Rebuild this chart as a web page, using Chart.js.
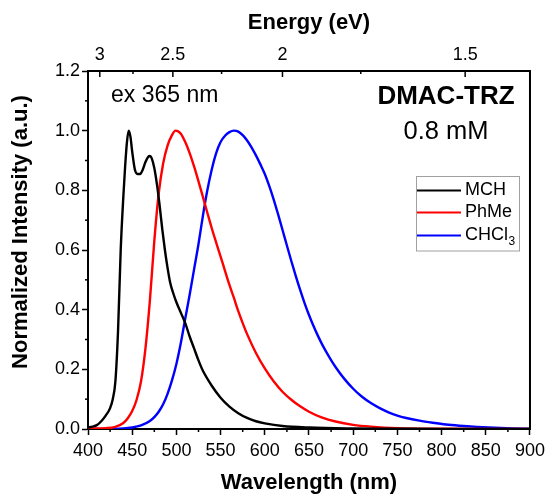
<!DOCTYPE html>
<html>
<head>
<meta charset="utf-8">
<script src="https://cdn.jsdelivr.net/npm/chart.js@4.4.1/dist/chart.umd.min.js"></script>
<style>
  html, body { margin: 0; padding: 0; background: #fff; }
  #wrap { width: 550px; height: 496px; }
</style>
</head>
<body>
<div id="wrap"><canvas id="plChart"></canvas></div>
<script>
// emission spectra
const mchWl = [400, 405, 410, 415, 420, 425, 428, 431, 434, 437, 440, 442, 444, 446, 448, 450, 453, 456, 459, 462, 465, 468, 470, 472, 475, 478, 481, 484, 487, 490, 493, 497, 500, 505, 510, 515, 520, 525, 530, 540, 550, 560, 570, 580, 590, 600, 620, 650, 700, 750, 800, 900];
const mchInt = [0.005, 0.008, 0.013, 0.026, 0.045, 0.07, 0.1, 0.16, 0.33, 0.6, 0.78, 0.88, 0.96, 1.0, 0.98, 0.93, 0.87, 0.855, 0.855, 0.87, 0.895, 0.912, 0.915, 0.908, 0.875, 0.82, 0.75, 0.67, 0.6, 0.54, 0.49, 0.45, 0.425, 0.39, 0.355, 0.31, 0.27, 0.23, 0.195, 0.145, 0.105, 0.075, 0.053, 0.037, 0.026, 0.019, 0.01, 0.005, 0.002, 0.001, 0, 0];

const phmeWl = [400, 420, 430, 440, 445, 450, 455, 460, 465, 470, 475, 480, 485, 490, 495, 499, 505, 510, 515, 520, 525, 530, 535, 540, 545, 550, 555, 560, 565, 570, 575, 580, 590, 600, 610, 620, 630, 640, 650, 665, 680, 700, 720, 750, 800, 850, 900];
const phmeInt = [0.002, 0.003, 0.006, 0.02, 0.036, 0.06, 0.098, 0.16, 0.27, 0.43, 0.63, 0.79, 0.89, 0.95, 0.985, 1.0, 0.99, 0.962, 0.925, 0.88, 0.83, 0.778, 0.725, 0.673, 0.625, 0.578, 0.53, 0.483, 0.44, 0.395, 0.355, 0.318, 0.255, 0.203, 0.16, 0.125, 0.098, 0.076, 0.058, 0.038, 0.025, 0.014, 0.008, 0.003, 0.001, 0, 0];

const chclWl = [400, 440, 450, 460, 470, 475, 480, 485, 490, 495, 500, 505, 510, 515, 520, 525, 530, 535, 540, 545, 550, 555, 560, 565, 570, 575, 580, 585, 590, 595, 600, 605, 610, 615, 620, 625, 630, 635, 640, 645, 650, 655, 660, 665, 670, 675, 680, 690, 700, 710, 720, 730, 740, 750, 760, 775, 790, 805, 820, 840, 860, 880, 900];
const chclInt = [0, 0.002, 0.005, 0.012, 0.027, 0.04, 0.058, 0.083, 0.118, 0.163, 0.218, 0.288, 0.37, 0.45, 0.535, 0.62, 0.715, 0.8, 0.87, 0.925, 0.962, 0.983, 0.995, 1.0, 0.997, 0.985, 0.967, 0.944, 0.917, 0.887, 0.855, 0.815, 0.77, 0.72, 0.668, 0.615, 0.563, 0.513, 0.466, 0.422, 0.382, 0.346, 0.313, 0.283, 0.256, 0.231, 0.208, 0.168, 0.135, 0.108, 0.087, 0.07, 0.056, 0.045, 0.037, 0.028, 0.021, 0.015, 0.011, 0.007, 0.004, 0.002, 0.001];

const seriesNames = ["MCH", "PhMe", "CHCl3"];
const seriesColors = ["#000000", "#ff0000", "#0000ff"];

// top axis in eV (E = 1240 / wavelength)
const energyTicks = [3, 2.5, 2, 1.5];
const energyLabels = ["3", "2.5", "2", "1.5"];
const energyMinor = [2.75, 2.25, 1.75];

const xMinor = [425, 475, 525, 575, 625, 675, 725, 775, 825, 875];
const yMinor = [0.1, 0.3, 0.5, 0.7, 0.9, 1.1];

const FONT = "'Liberation Sans', Arial, sans-serif";

function toPoints(wl, val) {
	return wl.map((w, i) => ({ x: w, y: val[i] }));
}

function makeSet(i, wl, val) {
	return {
		label: seriesNames[i],
		data: toPoints(wl, val),
		borderColor: seriesColors[i],
		backgroundColor: seriesColors[i],
		borderWidth: 2.4,
		pointRadius: 0,
		showLine: true,
		fill: false,
		cubicInterpolationMode: "monotone",
	};
}

const extras = {
	id: "extras",
	afterDraw(chart) {
		const { ctx, chartArea: a, scales } = chart;
		const x = scales.x, y = scales.y, xt = scales.xTop;
		const line = (x1, y1, x2, y2) => {
			ctx.beginPath();
			ctx.moveTo(x1, y1);
			ctx.lineTo(x2, y2);
			ctx.stroke();
		};
		ctx.save();
		ctx.strokeStyle = "#000";
		ctx.lineWidth = 2;
		line(a.right, a.top - 1, a.right, a.bottom + 1);

		ctx.lineWidth = 1.5;
		yMinor.forEach(v => {
			const py = y.getPixelForValue(v);
			line(a.left - 3, py, a.left, py);
		});
		xMinor.forEach(v => {
			const px = x.getPixelForValue(v);
			line(px, a.bottom, px, a.bottom + 3);
		});
		energyTicks.forEach(e => {
			const px = xt.getPixelForValue(1240 / e);
			line(px, a.top, px, a.top + 6);
		});
		energyMinor.forEach(e => {
			const px = xt.getPixelForValue(1240 / e);
			line(px, a.top, px, a.top + 3);
		});

		// y title
		ctx.fillStyle = "#000";
		ctx.save();
		ctx.translate(21, 232);
		ctx.rotate(-Math.PI / 2);
		ctx.font = "bold 22px " + FONT;
		ctx.textAlign = "center";
		ctx.textBaseline = "middle";
		ctx.fillText("Normalized Intensity (a.u.)", 0, 0);
		ctx.restore();

		// annotations
		ctx.textBaseline = "middle";
		ctx.textAlign = "left";
		ctx.font = "23px " + FONT;
		ctx.fillText("ex 365 nm", 111, 96);
		ctx.textAlign = "center";
		ctx.font = "bold 26px " + FONT;
		ctx.fillText("DMAC-TRZ", 446, 97);
		ctx.font = "25.5px " + FONT;
		ctx.fillText("0.8 mM", 446, 132);

		// legend box
		ctx.strokeStyle = "#a0a0a0";
		ctx.lineWidth = 1;
		ctx.strokeRect(416.5, 176.5, 103, 74.5);
		const rows = [190.5, 212.5, 235.5];
		ctx.textAlign = "left";
		chart.data.datasets.forEach((ds, i) => {
			ctx.strokeStyle = ds.borderColor;
			ctx.lineWidth = 2;
			line(417, rows[i], 461, rows[i]);
			ctx.fillStyle = "#000";
			ctx.font = "18px " + FONT;
			if (ds.label === "CHCl3") {
				ctx.fillText("CHCl", 465, rows[i]);
				const w = ctx.measureText("CHCl").width;
				ctx.font = "12px " + FONT;
				ctx.fillText("3", 465 + w + 0.5, rows[i] + 6);
			} else {
				ctx.fillText(ds.label, 465, rows[i]);
			}
		});
		ctx.restore();
	},
};

const ctxPl = document.getElementById("plChart");
const plChart = new Chart(ctxPl, {
	type: "scatter",
	data: {
		datasets: [
			makeSet(0, mchWl, mchInt),
			makeSet(1, phmeWl, phmeInt),
			makeSet(2, chclWl, chclInt),
		],
	},
	options: {
		responsive: true,
		maintainAspectRatio: false,
		animation: false,
		devicePixelRatio: 1,
		layout: { padding: { left: 0, right: 17, top: 0, bottom: 0 } },
		plugins: {
			legend: { display: false },
			tooltip: { enabled: false },
		},
		scales: {
			x: {
				type: "linear",
				position: "bottom",
				min: 400,
				max: 900,
				afterFit: s => { s.height = 67; },
				ticks: {
					stepSize: 50,
					maxRotation: 0,
					autoSkip: false,
					padding: 5,
					color: "#000",
					font: { family: FONT, size: 18 },
				},
				grid: { drawOnChartArea: false, drawTicks: true, tickLength: 6, tickWidth: 1.5, tickColor: "#000" },
				border: { display: true, color: "#000", width: 2 },
				title: {
					display: true,
					text: "Wavelength (nm)",
					color: "#000",
					font: { family: FONT, size: 22, weight: "bold" },
					padding: { top: 0, bottom: 0 },
				},
			},
			xTop: {
				type: "linear",
				position: "top",
				min: 400,
				max: 900,
				afterFit: s => { s.height = 71; },
				afterBuildTicks: s => {
					s.ticks = energyTicks.map(e => ({ value: 1240 / e }));
				},
				ticks: {
					maxRotation: 0,
					autoSkip: false,
					padding: 5,
					color: "#000",
					font: { family: FONT, size: 18 },
					callback: (v, i) => energyLabels[i],
				},
				grid: { display: false, drawTicks: false },
				border: { display: true, color: "#000", width: 2 },
				title: {
					display: true,
					text: "Energy (eV)",
					color: "#000",
					font: { family: FONT, size: 22, weight: "bold" },
					padding: { top: 10, bottom: 0 },
				},
			},
			y: {
				type: "linear",
				position: "left",
				min: 0,
				max: 1.2,
				afterFit: s => { s.width = 88; },
				ticks: {
					stepSize: 0.2,
					padding: 2,
					color: "#000",
					font: { family: FONT, size: 18 },
					callback: v => v.toFixed(1),
				},
				grid: { drawOnChartArea: false, drawTicks: true, tickLength: 6, tickWidth: 1.5, tickColor: "#000" },
				border: { display: true, color: "#000", width: 2 },
			},
		},
	},
	plugins: [extras],
});
</script>
</body>
</html>
